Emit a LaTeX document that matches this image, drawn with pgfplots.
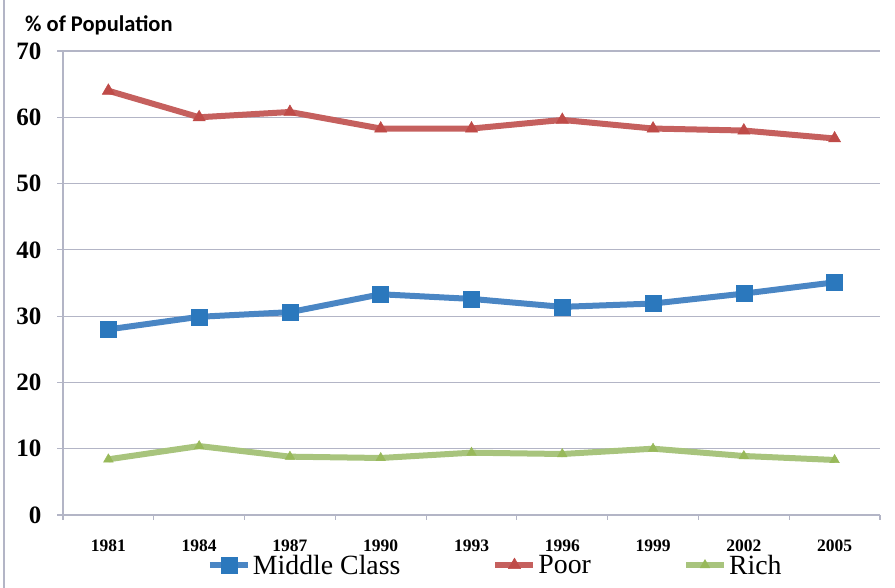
\documentclass[border=0pt]{standalone}
\usepackage{pgfplots}
\pgfplotsset{compat=1.18}
\usepackage{fontspec}
\setmainfont{Liberation Serif}
\newfontfamily\titlefont{Carlito}
\definecolor{mcline}{HTML}{4A86C4}
\definecolor{mcmark}{HTML}{2B78BD}
\definecolor{poorline}{HTML}{C5605E}
\definecolor{poormark}{HTML}{BF4B48}
\definecolor{richline}{HTML}{A8C47D}
\definecolor{richmark}{HTML}{98B95A}
\definecolor{gridc}{HTML}{B3B5C6}
\begin{document}
\begin{tikzpicture}
\useasboundingbox (0,0) rectangle (895pt,588pt);
\draw[gridc, line width=1.2pt] (4pt,0) -- (4pt,588pt);
\node[anchor=west, inner sep=0pt] at (25pt,562.5pt) {\titlefont\fontsize{22.5}{26}\selectfont\bfseries \% of Population};
\begin{axis}[
  at={(63pt,73pt)}, anchor=south west,
  scale only axis, width=817pt, height=464pt,
  xmin=-0.5, xmax=8.5, ymin=0, ymax=70,
  axis lines*=left,
  axis line style={gridc, line width=1.2pt},
  xtick={0,...,8},
  xticklabels={1981,1984,1987,1990,1993,1996,1999,2002,2005},
  minor xtick={-0.5,0.5,...,8.5},
  ytick={0,10,...,70},
  tick align=outside,
  major tick length=6pt, minor tick length=5pt,
  major x tick style={draw=none},
  minor x tick style={gridc, line width=1.2pt},
  major y tick style={gridc, line width=1.2pt},
  ymajorgrids,
  grid style={gridc, line width=1.2pt},
  /pgf/number format/assume math mode=true,
  xticklabel style={font=\fontsize{17.5}{20}\selectfont\bfseries, yshift=-15pt},
  yticklabel style={font=\fontsize{25}{28}\selectfont\bfseries, xshift=-12pt},
  clip=false,
  legend columns=3,
  legend style={draw=none, fill=none, at={(0.176,-0.108)}, anchor=west, inner sep=0pt,
    font=\fontsize{27.8}{30}\selectfont,
    /tikz/every even column/.append style={column sep=90pt}},
  legend cell align=left,
  legend image code/.code={\draw[#1, mark repeat=2, mark phase=2] plot coordinates {(0pt,0pt) (19pt,0pt) (38pt,0pt)};},
]
\addplot[mcline, line width=6pt, mark=square*, mark size=8pt, mark options={fill=mcmark, draw=mcmark, line width=0.5pt}]
  coordinates {(0,28.0) (1,29.9) (2,30.6) (3,33.3) (4,32.6) (5,31.4) (6,31.9) (7,33.4) (8,35.1)};
\addlegendentry{Middle Class}
\addplot[poorline, line width=6pt, mark=triangle*, mark size=7pt, mark options={fill=poormark, draw=poormark, line width=0.5pt}]
  coordinates {(0,64.0) (1,60.0) (2,60.8) (3,58.3) (4,58.3) (5,59.6) (6,58.3) (7,58.0) (8,56.8)};
\addlegendentry{Poor}
\addplot[richline, line width=6pt, mark=triangle*, mark size=5.5pt, mark options={fill=richmark, draw=richmark, line width=0.5pt}]
  coordinates {(0,8.4) (1,10.4) (2,8.8) (3,8.6) (4,9.4) (5,9.2) (6,10.0) (7,8.9) (8,8.3)};
\addlegendentry{Rich}
\end{axis}
\end{tikzpicture}
\end{document}
